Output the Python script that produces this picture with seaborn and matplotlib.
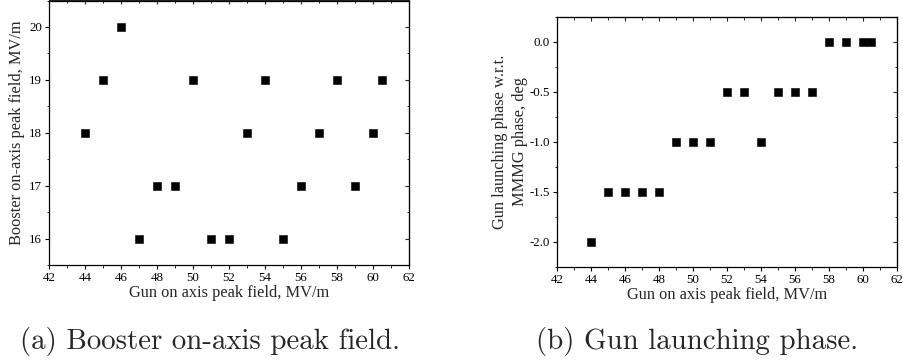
import numpy as np
import pandas as pd
import seaborn as sns
import matplotlib
matplotlib.use("Agg")
import matplotlib.pyplot as plt
from matplotlib.ticker import MultipleLocator, FormatStrFormatter

# ---- data ----
gun_field = [44, 45, 46, 47, 48, 49, 50, 51, 52, 53, 54, 55, 56, 57, 58, 59, 60, 60.5]
booster_field = [18, 19, 20, 16, 17, 17, 19, 16, 16, 18, 19, 16, 17, 18, 19, 17, 18, 19]
launch_phase = [-2.0, -1.5, -1.5, -1.5, -1.5, -1.0, -1.0, -1.0, -0.5, -0.5, -1.0,
                -0.5, -0.5, -0.5, 0.0, 0.0, 0.0, 0.0]
xlabel_text = "Gun on axis peak field, MV/m"
ylabel_a = "Booster on-axis peak field, MV/m"
ylabel_b = "Gun launching phase w.r.t.\nMMMG phase, deg"
caption_a = "(a) Booster on-axis peak field."
caption_b = "(b) Gun launching phase."

sns.set_style("ticks")
plt.rcParams["font.family"] = ["Liberation Serif", "DejaVu Serif"]
plt.rcParams["axes.unicode_minus"] = False

df_a = pd.DataFrame({"x": gun_field, "y": booster_field})
df_b = pd.DataFrame({"x": gun_field, "y": launch_phase})

fig = plt.figure(figsize=(9.04, 3.61), dpi=100)
ax_a = fig.add_axes([49 / 904, 1 - 265 / 361, 360 / 904, 264.5 / 361])
ax_b = fig.add_axes([557 / 904, 1 - 267 / 361, 340 / 904, 250 / 361])

LBL = 11.8
TCK = 9.3


def style(ax, ymaj, ymin):
    ax.set_xlim(42, 62)
    ax.xaxis.set_major_locator(MultipleLocator(2))
    ax.xaxis.set_minor_locator(MultipleLocator(1))
    ax.yaxis.set_major_locator(MultipleLocator(ymaj))
    ax.yaxis.set_minor_locator(MultipleLocator(ymin))
    for s in ax.spines.values():
        s.set_linewidth(0.9)
        s.set_color("black")
    ax.tick_params(which="major", direction="out", length=3, width=0.8,
                   labelsize=TCK, pad=2, colors="black")
    ax.tick_params(which="minor", direction="out", length=1.8, width=0.7)
    # mirrored ticks on top/right pointing inward (Origin-style)
    top = ax.secondary_xaxis("top")
    top.xaxis.set_major_locator(MultipleLocator(2))
    top.xaxis.set_minor_locator(MultipleLocator(1))
    top.tick_params(which="major", direction="in", length=3, width=0.8, labeltop=False)
    top.tick_params(which="minor", direction="in", length=1.8, width=0.7)
    right = ax.secondary_yaxis("right")
    right.yaxis.set_major_locator(MultipleLocator(ymaj))
    right.yaxis.set_minor_locator(MultipleLocator(ymin))
    right.tick_params(which="major", direction="in", length=3, width=0.8, labelright=False)
    right.tick_params(which="minor", direction="in", length=1.8, width=0.7)
    ax.set_xlabel(xlabel_text, fontsize=LBL, labelpad=1)


sns.scatterplot(data=df_a, x="x", y="y", marker="s", s=26, color="black",
                edgecolor="black", linewidth=0.4, ax=ax_a)
ax_a.set_ylim(15.5, 20.5)
style(ax_a, 1, 0.5)
ax_a.set_ylabel(ylabel_a, fontsize=LBL, labelpad=3)

sns.scatterplot(data=df_b, x="x", y="y", marker="s", s=26, color="black",
                edgecolor="black", linewidth=0.4, ax=ax_b)
ax_b.set_ylim(-2.25, 0.25)
style(ax_b, 0.5, 0.25)
ax_b.yaxis.set_major_formatter(FormatStrFormatter("%.1f"))
ax_b.set_ylabel(ylabel_b, fontsize=LBL, labelpad=1, linespacing=1.35)

fig.text(210 / 904, 0.053, caption_a, family="cmr10", fontsize=20.8,
         ha="center", va="center")
fig.text(697 / 904, 0.053, caption_b, family="cmr10", fontsize=20.8,
         ha="center", va="center")

fig.savefig("out.png", dpi=100)
